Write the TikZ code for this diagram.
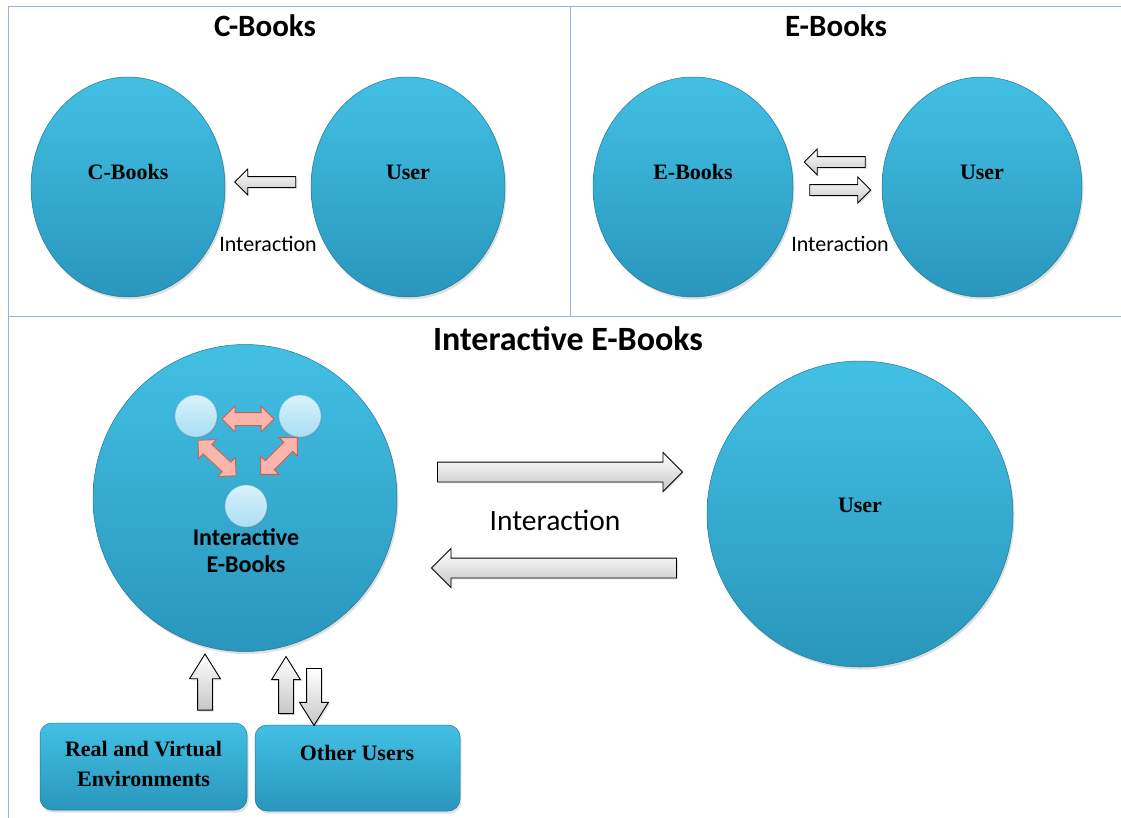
\documentclass[tikz,border=0pt]{standalone}
\usepackage{fontspec}
\newfontfamily\calfont{Carlito}
\newfontfamily\timesfont{Liberation Serif}
\usetikzlibrary{shapes.geometric, shapes.arrows, shadows, calc, positioning}

\definecolor{panelline}{RGB}{149,179,215}
\definecolor{bluetop}{RGB}{66,192,228}
\definecolor{bluebot}{RGB}{42,150,188}
\definecolor{bluerim}{RGB}{34,120,152}
\definecolor{paletop}{RGB}{215,242,252}
\definecolor{palebot}{RGB}{170,222,244}
\definecolor{pinkfill}{RGB}{250,182,170}
\definecolor{pinkline}{RGB}{214,88,78}

\tikzset{
  bookcirc/.style={ellipse, inner sep=0pt, top color=bluetop, bottom color=bluebot,
    draw=bluerim, line width=0.5pt,
    drop shadow={opacity=0.25, shadow xshift=1.5pt, shadow yshift=-2.5pt}},
  dotcirc/.style={circle, inner sep=0pt, minimum size=42pt, top color=paletop,
    bottom color=palebot, draw=palebot!80!black, line width=0.3pt,
    drop shadow={opacity=0.25, shadow xshift=1pt, shadow yshift=-1.5pt}},
  envbox/.style={rectangle, rounded corners=12pt, inner sep=0pt, top color=bluetop,
    bottom color=bluebot, draw=bluerim, line width=0.5pt,
    drop shadow={opacity=0.25, shadow xshift=1.5pt, shadow yshift=-2.5pt}},
  blockarrow/.style={single arrow, inner xsep=0pt, draw=black, line width=0.9pt,
    top color=white, bottom color=black!22,
    drop shadow={opacity=0.25, shadow xshift=1.5pt, shadow yshift=-1.5pt}},
  pinkarrow/.style={double arrow, inner xsep=0pt, inner ysep=6pt, minimum height=52pt,
    double arrow head extend=6.5pt, fill=pinkfill, draw=pinkline, line width=0.8pt},
  titletext/.style={font=\calfont\bfseries\fontsize{31}{36}\selectfont, anchor=base},
  circlabel/.style={font=\timesfont\bfseries\fontsize{22}{30}\selectfont, anchor=base,
    align=center},
  inttext/.style={font=\calfont\fontsize{22}{26}\selectfont, anchor=base},
}

\begin{document}
\begin{tikzpicture}[x=1pt,y=-1pt]
\useasboundingbox (0,0) rectangle (1121,817);

% panels
\draw[panelline, line width=1pt] (8,6) rectangle (1135,835);
\draw[panelline, line width=1pt] (570,6) -- (570,316);
\draw[panelline, line width=1pt] (8,316) -- (1135,316);

% C-Books panel
\node[titletext] (ctitle) at (265,36) {C-Books};
\node[bookcirc, minimum width=194pt, minimum height=220pt] (cbook) at (128,187) {};
\node[bookcirc, minimum width=194pt, minimum height=220pt] (cuser) at (408,187) {};
\node[circlabel] at ($(cbook.center)+(0,-8)$) {C-Books};
\node[circlabel] at ($(cuser.center)+(0,-8)$) {User};
\node[blockarrow, rotate=180, minimum height=61pt, inner ysep=5pt,
  single arrow head extend=7.5pt] (carrow) at ($(cbook.east)!0.5!(cuser.west)+(0,-5)$) {};
\node[inttext] (cint) at (268,251) {Interaction};

% E-Books panel
\node[titletext] (etitle) at (836,36) {E-Books};
\node[bookcirc, minimum width=200pt, minimum height=220pt] (ebook) at (693,187) {};
\node[bookcirc, minimum width=200pt, minimum height=220pt] (euser) at (982,187) {};
\node[circlabel] at ($(ebook.center)+(0,-8)$) {E-Books};
\node[circlabel] at ($(euser.center)+(0,-8)$) {User};
\node[blockarrow, rotate=180, minimum height=61pt, inner ysep=5pt,
  single arrow head extend=7.5pt] (eleft) at ($(ebook.east)!0.5!(euser.west)+(0,-25)$) {};
\node[blockarrow, minimum height=61pt, inner ysep=5pt,
  single arrow head extend=7.5pt] (eright) at ($(ebook.east)!0.5!(euser.west)+(0,3)$) {};
\node[inttext] (eint) at (840,251) {Interaction};

% Interactive E-Books panel
\node[titletext, font=\calfont\bfseries\fontsize{34}{40}\selectfont] (ititle) at (568,350) {Interactive E-Books};
\node[bookcirc, minimum width=304pt, minimum height=307pt] (iebook) at (245,498) {};
\node[bookcirc, minimum width=306pt, minimum height=306pt] (iuser) at (860,514) {};
\node[circlabel] at ($(iuser.center)+(0,-2)$) {User};

\node[dotcirc] (dota) at (196,416) {};
\node[dotcirc] (dotb) at (300,416) {};
\node[dotcirc] (dotc) at (246,506) {};
\node[pinkarrow] (ab) at ($(dota)!0.5!(dotb)+(0,3)$) {};
\node[pinkarrow, rotate=-43] (ac) at ($(dota)!0.5!(dotc)+(-4,-3)$) {};
\node[pinkarrow, rotate=45] (bc) at ($(dotb)!0.5!(dotc)+(6,-5)$) {};
\node[font=\calfont\bfseries\fontsize{24}{27}\selectfont, align=center]
  (ielabel) at (246,551) {Interactive\\E-Books};

\node[blockarrow, minimum height=245pt, inner ysep=9.5pt,
  single arrow head extend=9.5pt] (iright) at (555,472) {};
\node[blockarrow, rotate=180, minimum height=245pt, inner ysep=9.5pt,
  single arrow head extend=9.5pt] (ileft) at (559,568) {};
\node[inttext, font=\calfont\fontsize{29.5}{34}\selectfont] (iint) at (555,530) {Interaction};

% environment boxes
\node[envbox, minimum width=207pt, minimum height=87pt] (envs) at (143.5,766.5) {};
\node[envbox, minimum width=205pt, minimum height=86pt] (others) at (357.5,768) {};
\node[circlabel, anchor=center] at ($(envs.center)+(0,-3)$) {Real and Virtual\\Environments};
\node[circlabel] at (357,760) {Other Users};

\node[blockarrow, rotate=90, minimum height=56pt, inner ysep=7pt,
  single arrow head extend=8pt, single arrow tip angle=64] (envup) at (205,688) {};
\node[blockarrow, rotate=90, minimum height=57pt, inner ysep=7pt,
  single arrow head extend=7pt, single arrow tip angle=64] (othup) at (286,691) {};
\node[blockarrow, rotate=-90, minimum height=57pt, inner ysep=7pt,
  single arrow head extend=7pt, single arrow tip angle=64] (othdown) at (314,691) {};

\end{tikzpicture}
\end{document}
